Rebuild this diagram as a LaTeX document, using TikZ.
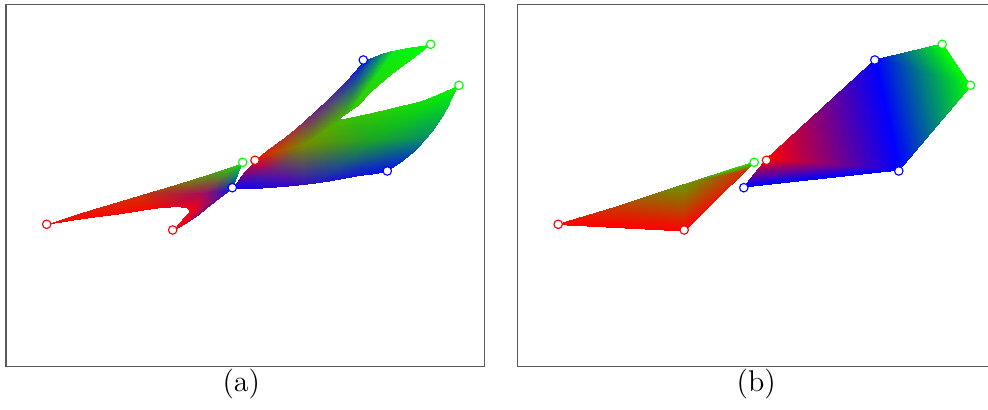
\documentclass[tikz,border=0pt]{standalone}
\usepackage{pgfplots}
\pgfplotsset{compat=1.18}
\pgfplotsset{
  meshax/.style={hide axis, disabledatascaling, anchor=origin, at={(0,0)},
    x={(0.4pt,0pt)}, y={(0pt,-0.4pt)}, xmin=0, xmax=988, ymin=0, ymax=410, clip=false},
  rgbpatch/.style={patch, shader=interp, mesh/color input=explicit}}

\begin{document}
\begin{tikzpicture}[x=0.4pt, y=-0.4pt,
  frame/.style={draw=black!65, line width=0.5pt},
  vtx/.style={circle, fill=white, inner sep=0pt, minimum size=3.4pt, line width=0.45pt},
  captxt/.style={font=\fontsize{12}{14}\selectfont, inner sep=1pt}]
  \useasboundingbox (0,0) rectangle (988,410);

  % frames
  \draw[frame] (6,4.7) rectangle (484.3,366.7);
  \draw[frame] (992,4.7) -| (517.3,366.7) -- (992,366.7);

  % (a) smooth deformation, left piece
  \begin{scope}
    \clip plot[smooth] coordinates {(46.7,224.3) (85,211.7) (135,196.7) (185,181.7) (221.7,170) (242,163)}
      -- (232.3,188.3)
      -- plot[smooth] coordinates {(232.3,188.3) (208.3,206.7) (191.7,220) (173.3,230)}
      -- (189.3,210.5)
      -- plot[smooth] coordinates {(189.3,210.5) (186.7,208) (180,207) (160,207.7) (118.3,214) (85,218.3) (46.7,224.3)}
      -- cycle;
    \begin{axis}[meshax]
      \addplot[rgbpatch] table[meta=c] {
        x y c
        43 227 rgb=1,0,0
        135 192 rgb=0.75,0.25,0
        150 212 rgb=1,0,0
        203 194 rgb=0.65,0.05,0.35
        135 192 rgb=0.75,0.25,0
        188 177 rgb=0.4,0.6,0
        203 194 rgb=0.65,0.05,0.35
        188 177 rgb=0.4,0.6,0
        246 158 rgb=0,1,0
        203 194 rgb=0.65,0.05,0.35
        246 158 rgb=0,1,0
        234 191 rgb=0,0.1,0.9
        203 194 rgb=0.65,0.05,0.35
        234 191 rgb=0,0.1,0.9
        191 211 rgb=1,0,0.05
        203 194 rgb=0.65,0.05,0.35
        191 211 rgb=1,0,0.05
        150 212 rgb=1,0,0
        203 194 rgb=0.65,0.05,0.35
        150 212 rgb=1,0,0
        135 192 rgb=0.75,0.25,0
        234 191 rgb=0,0.1,0.9
        170 234 rgb=1,0,0
        191 211 rgb=1,0,0.05
      };
    \end{axis}
  \end{scope}

  % (a) smooth deformation, right piece
  \begin{scope}
    \clip plot[smooth] coordinates {(232.3,189) (258.3,188.3) (291.7,185.7) (325,181.7) (358.3,175.7) (386,171) (411.7,153.3) (431.7,131.7) (445,111.7) (455,91.7) (459,85)}
      -- plot[smooth] coordinates {(459,85) (425,99.5) (400,106) (375,112) (351.7,117) (339.5,119) (348.5,112) (358.3,105) (371.7,91) (391.7,74) (411.7,59) (430.7,44.5)}
      -- plot[smooth] coordinates {(430.7,44.5) (408.3,47.7) (388.3,51.7) (371.7,57.5) (362,63) (348.3,78.3) (325,101.7) (291.7,131.7) (265,151.7) (254,162) (241.7,175) (232.3,189)}
      -- cycle;
    \begin{axis}[meshax]
      \addplot[rgbpatch] table[meta=c] {
        x y c
        228 192 rgb=0,0,1
        250 158 rgb=1,0,0
        275 172 rgb=0.4,0.1,0.55
        250 158 rgb=1,0,0
        305 145 rgb=0.45,0.55,0
        275 172 rgb=0.4,0.1,0.55
        250 158 rgb=1,0,0
        285 128 rgb=0.75,0.05,0.3
        305 145 rgb=0.45,0.55,0
        285 128 rgb=0.75,0.05,0.3
        320 98 rgb=0.4,0,0.7
        305 145 rgb=0.45,0.55,0
        320 98 rgb=0.4,0,0.7
        346 117 rgb=0.25,0.75,0
        305 145 rgb=0.45,0.55,0
        320 98 rgb=0.4,0,0.7
        364 55 rgb=0,0,1
        346 117 rgb=0.25,0.75,0
        364 55 rgb=0,0,1
        398 46 rgb=0,0.95,0.1
        346 117 rgb=0.25,0.75,0
        398 46 rgb=0,0.95,0.1
        434 41 rgb=0,1,0
        346 117 rgb=0.25,0.75,0
        346 117 rgb=0.25,0.75,0
        372 140 rgb=0.1,0.65,0.15
        305 145 rgb=0.45,0.55,0
        346 117 rgb=0.25,0.75,0
        462 82 rgb=0,1,0
        372 140 rgb=0.1,0.65,0.15
        462 82 rgb=0,1,0
        442 136 rgb=0,0.55,0.45
        372 140 rgb=0.1,0.65,0.15
        442 136 rgb=0,0.55,0.45
        390 175 rgb=0,0,1
        372 140 rgb=0.1,0.65,0.15
        390 175 rgb=0,0,1
        305 190 rgb=0.15,0,0.85
        372 140 rgb=0.1,0.65,0.15
        305 190 rgb=0.15,0,0.85
        305 145 rgb=0.45,0.55,0
        372 140 rgb=0.1,0.65,0.15
        305 190 rgb=0.15,0,0.85
        275 172 rgb=0.4,0.1,0.55
        305 145 rgb=0.45,0.55,0
        305 190 rgb=0.15,0,0.85
        228 192 rgb=0,0,1
        275 172 rgb=0.4,0.1,0.55
      };
    \end{axis}
  \end{scope}

  % (b) piecewise linear
  \begin{axis}[meshax]
    \addplot[rgbpatch] table[meta=c] {
      x y c
      558 224.5 rgb=1,0,0
      610 209 rgb=0.8,0.2,0
      684 231 rgb=1,0,0
      610 209 rgb=0.8,0.2,0
      683 185 rgb=0.4,0.6,0
      684 231 rgb=1,0,0
      683 185 rgb=0.4,0.6,0
      754.5 162 rgb=0,1,0
      745.3 171 rgb=0.8,0.2,0
      683 185 rgb=0.4,0.6,0
      745.3 171 rgb=0.8,0.2,0
      684 231 rgb=1,0,0
    };
    \addplot[rgbpatch] table[meta=c] {
      x y c
      744 187 rgb=0,0,1
      766.7 159 rgb=1,0,0
      899.3 170 rgb=0,0,1
      766.7 159 rgb=1,0,0
      875 60 rgb=0,0,1
      899.3 170 rgb=0,0,1
      875 60 rgb=0,0,1
      942.3 44 rgb=0,1,0
      970.5 86 rgb=0,1,0
      875 60 rgb=0,0,1
      970.5 86 rgb=0,1,0
      899.3 170 rgb=0,0,1
    };
  \end{axis}

  % control points
  \foreach \px/\py/\pc/\pn in {46.7/224.3/red/1, 172.7/230/red/2, 232.3/187.7/blue/3,
      242.7/162.3/green/4, 255/160.3/red/5, 363.3/60/blue/6, 430.7/44.3/green/7,
      459/85.3/green/8, 387.3/171/blue/9} {
    \node[vtx, draw=\pc] (a\pn) at (\px,\py) {};
    \node[vtx, draw=\pc] (b\pn) at (\px+511.5,\py) {};
  }

  \node[captxt] (capa) at (241.3,384.5) {(a)};
  \node[captxt] (capb) at (756.2,384.5) {(b)};
\end{tikzpicture}
\end{document}
